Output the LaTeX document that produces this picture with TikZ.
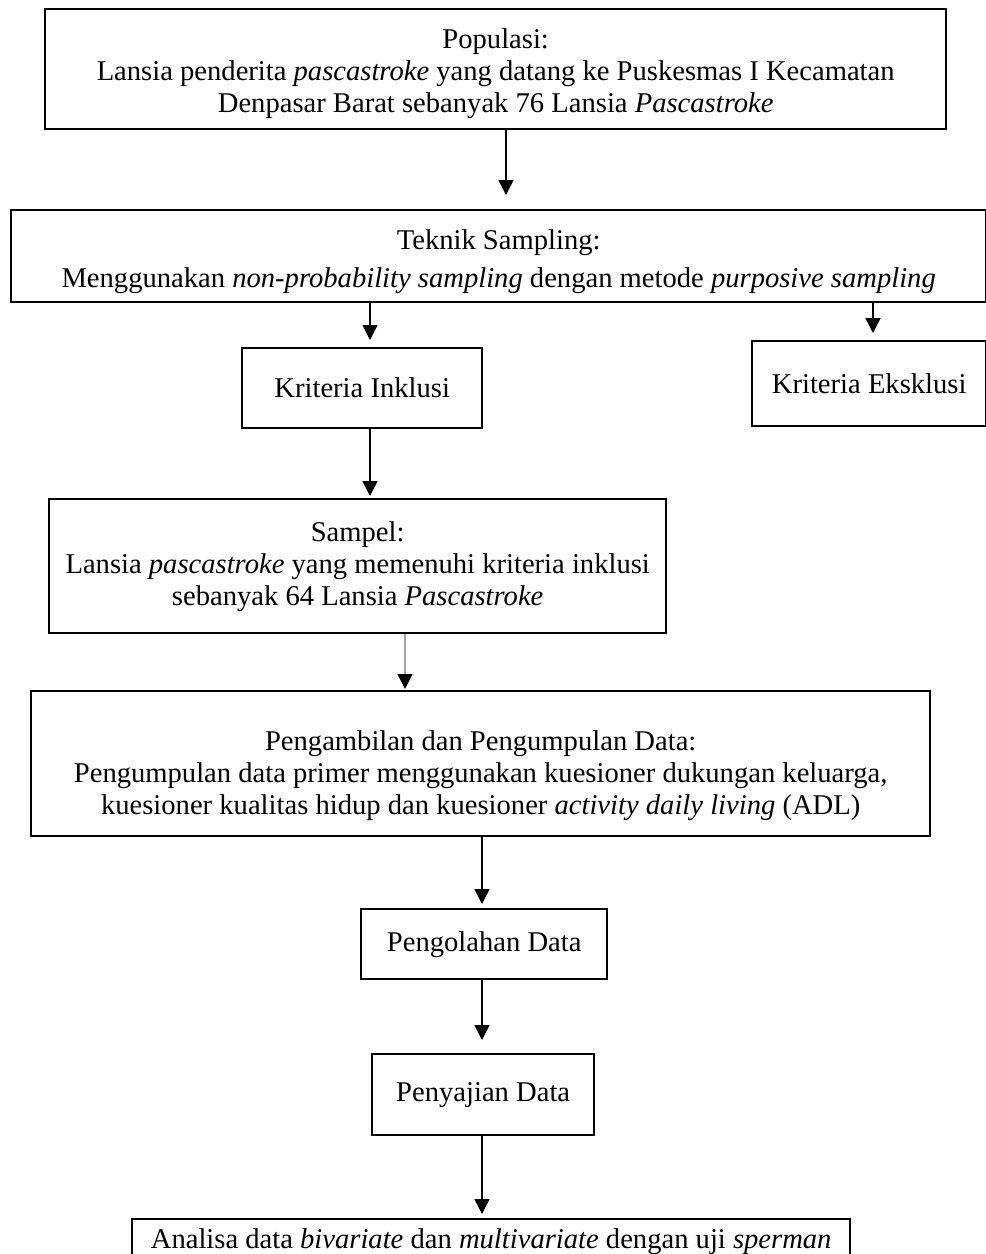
\documentclass[tikz,border=0pt]{standalone}
\usepackage{fontspec}
\setmainfont{Liberation Serif}
\usetikzlibrary{arrows.meta}

\tikzset{
  flowbox/.style={draw, line width=2.4pt, anchor=north west, align=center,
    inner sep=0pt, font=\fontsize{28.6}{32}\selectfont},
  flowarrow/.style={line width=1.4pt, -{Triangle[width=15pt,length=15pt,color=black]}},
}

\begin{document}
\begin{tikzpicture}[x=1pt,y=-1pt]
    \useasboundingbox (0,0) rectangle (986,1254);
    \clip (0,0) rectangle (986,1254);

    % boxes
    \node[flowbox, minimum width=901pt, minimum height=120pt] (populasi) at (44,8)
      {\rule{0pt}{29pt}Populasi:\\ Lansia penderita \textit{pascastroke} yang datang ke Puskesmas I Kecamatan\\ Denpasar Barat sebanyak 76 Lansia \textit{Pascastroke}};
    \node[flowbox, minimum width=975pt, minimum height=92pt] (teknik) at (10,209)
      {\rule{0pt}{31pt}Teknik Sampling:\\[6pt] Menggunakan \textit{non-probability sampling} dengan metode \textit{purposive sampling}};
    \node[flowbox, minimum width=240pt, minimum height=80pt] (inklusi) at (241,347) {Kriteria Inklusi};
    \node[flowbox, minimum width=234pt, minimum height=85pt] (eksklusi) at (751,340) {Kriteria Eksklusi};
    \node[flowbox, minimum width=617pt, minimum height=134pt] (sampel) at (48,498)
      {Sampel:\\ Lansia \textit{pascastroke} yang memenuhi kriteria inklusi\\ sebanyak 64 Lansia \textit{Pascastroke}};
    \node[flowbox, minimum width=899pt, minimum height=145pt] (datakumpul) at (30,690)
      {\rule{0pt}{43pt}Pengambilan dan Pengumpulan Data:\\ Pengumpulan data primer menggunakan kuesioner dukungan keluarga,\\ kuesioner kualitas hidup dan kuesioner \textit{activity daily living} (ADL)};
    \node[flowbox, minimum width=246pt, minimum height=70pt] (olah) at (360,908) {Pengolahan Data};
    \node[flowbox, minimum width=222pt, minimum height=81pt] (saji) at (371,1053) {Penyajian Data};
    \node[flowbox, minimum width=718pt, inner ysep=8pt, text height=21pt, text depth=50pt] (analisa) at (131,1218)
      {Analisa data \textit{bivariate} dan \textit{multivariate} dengan uji \textit{sperman}};

    % arrow tips
    \coordinate (tipteknik) at (506,195);
    \coordinate (tipinklusi) at (370,340);
    \coordinate (tipeksklusi) at (873,333);
    \coordinate (tipsampel) at (370,496);
    \coordinate (tipdata) at (405,689);
    \coordinate (tipolah) at (482,904);
    \coordinate (tipsaji) at (482,1040);
    \coordinate (tipanalisa) at (482,1214);

    % arrows
    \draw[flowarrow] (populasi.south -| tipteknik) -- (tipteknik);
    \draw[flowarrow] (teknik.south -| tipinklusi) -- (tipinklusi);
    \draw[flowarrow] (teknik.south -| tipeksklusi) -- (tipeksklusi);
    \draw[flowarrow] (inklusi.south -| tipsampel) -- (tipsampel);
    \draw[flowarrow, draw=gray!70] (sampel.south -| tipdata) -- (tipdata);
    \draw[flowarrow] (datakumpul.south -| tipolah) -- (tipolah);
    \draw[flowarrow] (olah.south -| tipsaji) -- (tipsaji);
    \draw[flowarrow] (saji.south -| tipanalisa) -- (tipanalisa);
\end{tikzpicture}
\end{document}
